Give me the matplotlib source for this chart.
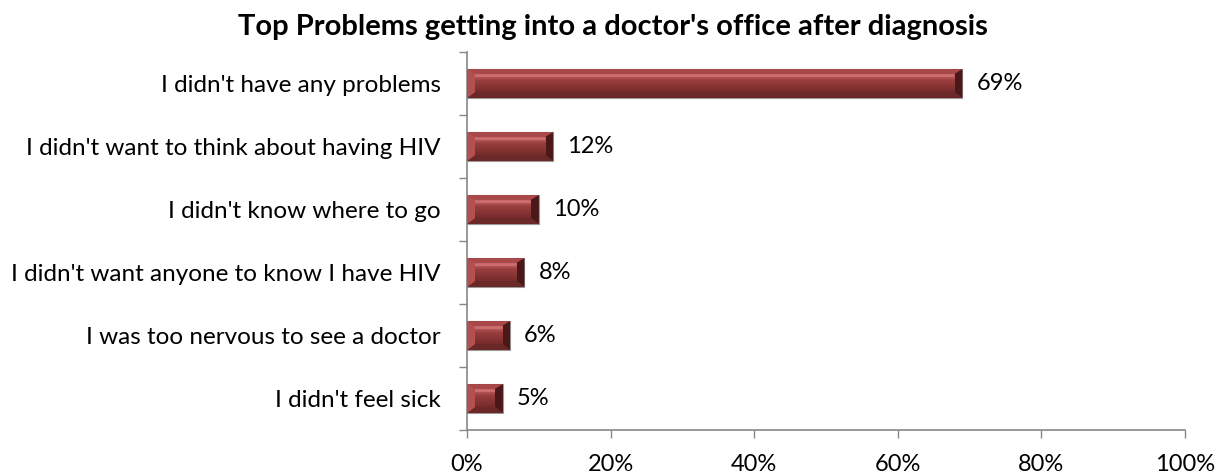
import matplotlib
matplotlib.use("Agg")
import matplotlib.pyplot as plt
from matplotlib.patches import Polygon
import numpy as np

categories = [
    "I didn't have any problems",
    "I didn't want to think about having HIV",
    "I didn't know where to go",
    "I didn't want anyone to know I have HIV",
    "I was too nervous to see a doctor",
    "I didn't feel sick",
]
values = [69, 12, 10, 8, 6, 5]
xtick_values = [0, 20, 40, 60, 80, 100]
title = "Top Problems getting into a doctor's office after diagnosis"

plt.rcParams['font.family'] = ['Lato', 'DejaVu Sans']

W, H = 1225, 475
fig = plt.figure(figsize=(W / 100, H / 100), dpi=100)
ax_l, ax_r, ax_t, ax_b = 467, 1185, 52, 430
ax = fig.add_axes([ax_l / W, 1 - ax_b / H, (ax_r - ax_l) / W, (ax_b - ax_t) / H])

n = len(categories)
ypos = np.arange(n)[::-1]  # first category on top
bar_h = 0.46

ax.set_xlim(0, 100)
ax.set_ylim(-0.5, n - 0.5)

bars = ax.barh(ypos, values, height=bar_h, color='#a04444', edgecolor='#9a9a9a', linewidth=0.8, zorder=2)

# bevel effect
px_x = 100 / (ax_r - ax_l)
px_y = n / (ax_b - ax_t)
bx = 8 * px_x
bt = 5 * px_y
bb = 6 * px_y
for y, v in zip(ypos, values):
    x0, x1 = 0, v
    y0, y1 = y - bar_h / 2, y + bar_h / 2
    bxx = min(bx, v / 2.2)
    ix0, ix1 = x0 + bxx, x1 - bxx
    iy0, iy1 = y0 + bb, y1 - bt
    ax.add_patch(Polygon([[x0, y1], [x1, y1], [ix1, iy1], [ix0, iy1]], closed=True,
                         facecolor='#a84848', edgecolor='none', zorder=3))
    ax.add_patch(Polygon([[x0, y0], [x1, y0], [ix1, iy0], [ix0, iy0]], closed=True,
                         facecolor='#6a2828', edgecolor='none', zorder=3))
    ax.add_patch(Polygon([[x0, y0], [x0, y1], [ix0, iy1], [ix0, iy0]], closed=True,
                         facecolor='#b35050', edgecolor='none', zorder=3))
    ax.add_patch(Polygon([[x1, y0], [x1, y1], [ix1, iy1], [ix1, iy0]], closed=True,
                         facecolor='#4a1818', edgecolor='none', zorder=3))
    grad = np.linspace(0, 1, 64).reshape(-1, 1)
    top_c = np.array([0.80, 0.42, 0.42])
    mid_c = np.array([0.60, 0.24, 0.24])
    bot_c = np.array([0.46, 0.17, 0.17])
    cols = np.where(grad < 0.35, top_c + (mid_c - top_c) * (grad / 0.35),
                    mid_c + (bot_c - mid_c) * ((grad - 0.35) / 0.65))
    img = cols.reshape(64, 1, 3)
    ax.imshow(img, extent=[ix0, ix1, iy0, iy1], origin='upper', aspect='auto',
              interpolation='bilinear', zorder=3)
    ax.plot([ix0, ix1], [iy1 - 0.3 * bt, iy1 - 0.3 * bt], color='#d27070', lw=1.2, zorder=4,
            solid_capstyle='butt')

ax.set_xlim(0, 100)
ax.set_ylim(-0.5, n - 0.5)

for y, v in zip(ypos, values):
    ax.text(v + 14 * px_x, y, f"{v}%", va='center', ha='left', fontsize=17, color='black')

ax.set_xticks(xtick_values)
ax.set_xticklabels([f"{t}%" for t in xtick_values], fontsize=17)
ax.set_yticks(ypos)
ax.set_yticklabels(categories, fontsize=17.5)
ax.tick_params(axis='y', length=0, pad=19)
ax.set_yticks(np.arange(-0.5, n, 1.0), minor=True)
ax.tick_params(axis='y', which='minor', length=6, color='#888888', width=1)
ax.tick_params(axis='x', length=6, color='#888888', width=1, pad=11)

for s in ['top', 'right']:
    ax.spines[s].set_visible(False)
for s in ['left', 'bottom']:
    ax.spines[s].set_color('#888888')
    ax.spines[s].set_linewidth(1.2)

fig.text(0.5, 1 - 27 / H, title, ha='center', va='center', fontsize=21, fontweight='bold')

fig.savefig("out.png", dpi=100)
